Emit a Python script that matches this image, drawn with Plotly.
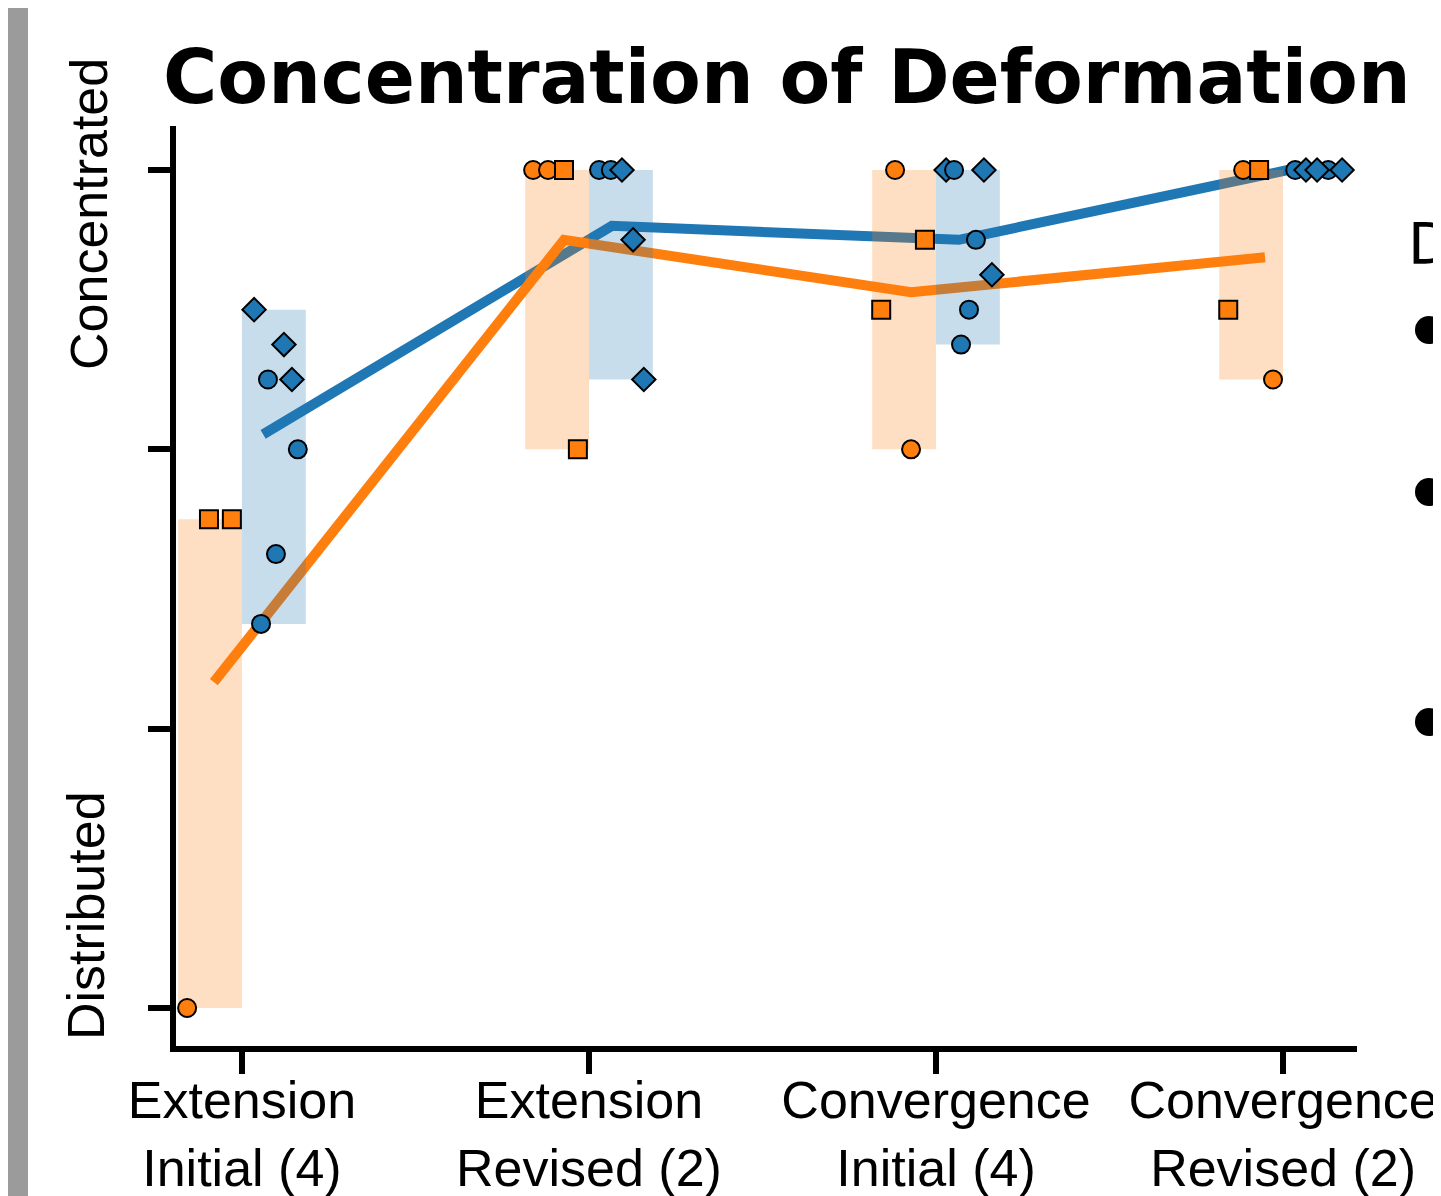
import numpy as np
import plotly.graph_objects as go

# ---------------- data ----------------
categories = ["Extension<br>Initial (4)", "Extension<br>Revised (2)",
              "Convergence<br>Initial (4)", "Convergence<br>Revised (2)"]
cat_pos = [0, 1, 2, 3]
y_tick_vals = [1, 2, 3, 4]
y_end_labels = ["Concentrated", "Distributed"]
legend_title = "D"

# orange series (individual ratings)
orange_cat = [0, 0, 0, 1, 1, 1, 1, 2, 2, 2, 2, 3, 3, 3, 3]
orange_val = [1.0, 2.75, 2.75, 4.0, 4.0, 4.0, 3.0, 4.0, 3.75, 3.5, 3.0, 4.0, 4.0, 3.5, 3.25]
orange_sym = ["circle", "square", "square", "circle", "circle", "square", "square",
              "circle", "square", "square", "circle", "circle", "square", "square", "circle"]

# blue series (individual ratings)
blue_cat = [0, 0, 0, 0, 0, 0, 0, 1, 1, 1, 1, 1, 2, 2, 2, 2, 2, 2, 2, 3, 3, 3, 3, 3]
blue_val = [3.25, 3.0, 2.625, 2.375, 3.5, 3.375, 3.25,
            4.0, 4.0, 4.0, 3.75, 3.25,
            4.0, 4.0, 4.0, 3.75, 3.625, 3.5, 3.375,
            4.0, 4.0, 4.0, 4.0, 4.0]
blue_sym = ["circle", "circle", "circle", "circle", "diamond", "diamond", "diamond",
            "circle", "circle", "diamond", "diamond", "diamond",
            "diamond", "circle", "diamond", "circle", "diamond", "circle", "circle",
            "circle", "circle", "diamond", "diamond", "diamond"]

# ---------------- layout / positions (not data) ----------------
orange_jit = [-0.158, -0.095, -0.029, -0.161, -0.118, -0.072, -0.032,
              -0.118, -0.032, -0.158, -0.072, -0.115, -0.069, -0.158, -0.029]
blue_jit = [0.075, 0.161, 0.098, 0.055, 0.035, 0.121, 0.144,
            0.029, 0.063, 0.095, 0.127, 0.158,
            0.029, 0.052, 0.138, 0.115, 0.161, 0.095, 0.072,
            0.035, 0.130, 0.066, 0.098, 0.170]
orange_line_off = [-0.081, -0.072, -0.072, -0.052]
blue_line_off = [0.061, 0.066, 0.066, 0.014]
bar_w = 0.184

ORANGE = "#ff7f0e"
BLUE = "#1f77b4"

OFF = 8                      # page body margin
W, H = 1441 - OFF, 1196 - OFF
# plot area edges in screen pixels
SL, SR, ST, SB = 176, 1357, 126, 1046
L, R, T, B = SL - OFF, SR - OFF, ST - OFF, SB - OFF
XR = [-0.19, 3.213]
YR = [0.864, 4.1575]


def px_x(p):
    return (p - SL) / (SR - SL)


def px_y(p):
    return (SB - p) / (SB - ST)


def stats(cats, vals):
    c = np.array(cats)
    v = np.array(vals, dtype=float)
    mins = [v[c == k].min() for k in cat_pos]
    maxs = [v[c == k].max() for k in cat_pos]
    means = [v[c == k].mean() for k in cat_pos]
    return mins, maxs, means


o_min, o_max, o_mean = stats(orange_cat, orange_val)
b_min, b_max, b_mean = stats(blue_cat, blue_val)

fig = go.Figure()

# mean lines (underneath)
fig.add_trace(go.Scatter(x=[c + o for c, o in zip(cat_pos, blue_line_off)], y=b_mean,
                         mode="lines", line=dict(color=BLUE, width=10), xaxis="x", yaxis="y"))
fig.add_trace(go.Scatter(x=[c + o for c, o in zip(cat_pos, orange_line_off)], y=o_mean,
                         mode="lines", line=dict(color=ORANGE, width=10), xaxis="x", yaxis="y"))

# range bars (overlay axes, above lines)
fig.add_trace(go.Bar(x=[c - bar_w / 2 for c in cat_pos], y=[a - b for a, b in zip(o_max, o_min)],
                     base=o_min, width=bar_w, marker=dict(color="rgba(255,127,14,0.25)", line=dict(width=0)),
                     xaxis="x2", yaxis="y2"))
fig.add_trace(go.Bar(x=[c + bar_w / 2 for c in cat_pos], y=[a - b for a, b in zip(b_max, b_min)],
                     base=b_min, width=bar_w, marker=dict(color="rgba(31,119,180,0.25)", line=dict(width=0)),
                     xaxis="x2", yaxis="y2"))

# individual points
fig.add_trace(go.Scatter(x=[c + j for c, j in zip(orange_cat, orange_jit)], y=orange_val, mode="markers",
                         marker=dict(symbol=orange_sym, size=18, color=ORANGE, line=dict(color="black", width=2)),
                         xaxis="x2", yaxis="y2", cliponaxis=False))
fig.add_trace(go.Scatter(x=[c + j for c, j in zip(blue_cat, blue_jit)], y=blue_val, mode="markers",
                         marker=dict(symbol=blue_sym, size=18, color=BLUE, line=dict(color="black", width=2)),
                         xaxis="x2", yaxis="y2", cliponaxis=False))

axis_common = dict(showline=True, linecolor="black", linewidth=6, ticks="outside", ticklen=22,
                   tickwidth=6, tickcolor="black", showgrid=False, zeroline=False, automargin=False)

fig.update_layout(
    width=W, height=H,
    margin=dict(l=L, r=W - R, t=T, b=H - B, pad=0, autoexpand=False),
    paper_bgcolor="white", plot_bgcolor="white",
    showlegend=False, barmode="overlay",
    font=dict(family="Liberation Sans, Arial, sans-serif", size=52, color="black"),
    xaxis=dict(range=XR, tickvals=cat_pos, ticktext=categories, ticklabelstandoff=-18,
               tickfont=dict(family="Liberation Sans, Arial, sans-serif", size=52, color="black"),
               **axis_common),
    yaxis=dict(range=YR, tickvals=y_tick_vals, showticklabels=False, **axis_common),
    xaxis2=dict(range=XR, overlaying="x", anchor="y2", visible=False, automargin=False),
    yaxis2=dict(range=YR, overlaying="y", anchor="x2", visible=False, automargin=False),
)

annotations = [
    dict(text="<b>Concentration of Deformation</b>", x=px_x(787), y=px_y(77), xref="paper", yref="paper",
         xanchor="center", yanchor="middle", showarrow=False,
         font=dict(family="DejaVu Sans", size=74, color="black")),
    dict(text=y_end_labels[0], x=px_x(89), y=px_y(214), xref="paper", yref="paper", textangle=-90,
         xanchor="center", yanchor="middle", showarrow=False,
         font=dict(family="Liberation Sans, Arial", size=52, color="black")),
    dict(text=y_end_labels[1], x=px_x(86), y=px_y(915), xref="paper", yref="paper", textangle=-90,
         xanchor="center", yanchor="middle", showarrow=False,
         font=dict(family="Liberation Sans, Arial", size=52, color="black")),
    dict(text=legend_title, x=px_x(1406), y=px_y(244), xref="paper", yref="paper",
         xanchor="left", yanchor="middle", showarrow=False,
         font=dict(family="DejaVu Sans", size=57, color="black")),
]
fig.update_layout(annotations=annotations)

shapes = [dict(type="rect", xref="paper", yref="paper", x0=px_x(8), x1=px_x(28), y0=px_y(H + 20), y1=px_y(-5),
               fillcolor="#9b9b9b", line=dict(width=0), layer="above")]
for cy in [330, 492, 722]:
    shapes.append(dict(type="circle", xref="paper", yref="paper", x0=px_x(1415), x1=px_x(1443),
                       y0=px_y(cy + 14), y1=px_y(cy - 14), fillcolor="black", line=dict(width=0)))
fig.update_layout(shapes=shapes)

fig.write_html("out.html")
